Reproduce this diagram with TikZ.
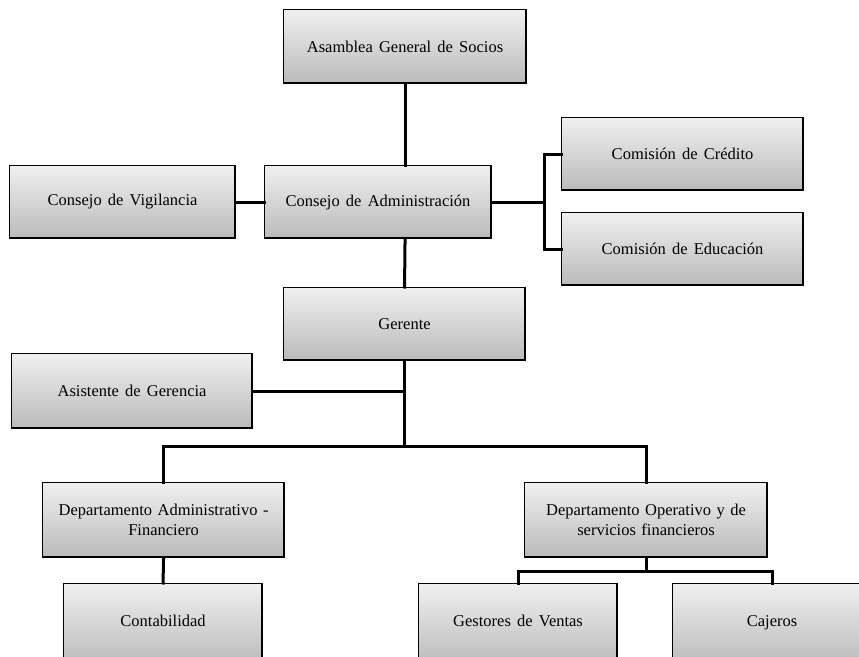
\documentclass[tikz,border=0pt]{standalone}
\usepackage{fontspec}
\setmainfont{Liberation Serif}[WordSpace=1.5]
\begin{document}
\begin{tikzpicture}[x=1pt,y=-1pt,
  orgbox/.style={draw=black, line width=1.1pt, rectangle, anchor=north west,
    inner sep=0pt, align=center, top color=black!6, bottom color=black!27,
    font=\fontsize{16.5}{20}\selectfont,
    path picture={\draw[line width=2.6pt]
      (path picture bounding box.south west) -- (path picture bounding box.south east)
      -- (path picture bounding box.north east);}},
  link/.style={line width=3pt, line cap=rect}]
\useasboundingbox (0,0) rectangle (859,656);
\clip (0,0) rectangle (859,656);

% boxes
\node[orgbox, minimum width=243pt, minimum height=74pt] (asamblea) at (283,9) {Asamblea General de Socios};
\node[orgbox, minimum width=226pt, minimum height=73pt] (vigilancia) at (9,165) {Consejo de Vigilancia};
\node[orgbox, minimum width=227pt, minimum height=73pt] (admin) at (264,165) {Consejo de Administración};
\node[orgbox, minimum width=242pt, minimum height=73pt] (credito) at (561,117) {Comisión de Crédito};
\node[orgbox, minimum width=242pt, minimum height=73pt] (educacion) at (561,212) {Comisión de Educación};
\node[orgbox, minimum width=242pt, minimum height=73pt] (gerente) at (283,287) {Gerente};
\node[orgbox, minimum width=241pt, minimum height=75pt] (asistente) at (11,353) {Asistente de Gerencia};
\node[orgbox, minimum width=242pt, minimum height=75pt, text width=236pt] (depadm) at (42,482) {Departamento Administrativo -\\Financiero};
\node[orgbox, minimum width=243pt, minimum height=75pt, text width=236pt] (depop) at (524,482) {Departamento Operativo y de\\servicios financieros};
\node[orgbox, minimum width=199pt, minimum height=82pt] (contab) at (63,583) {\raisebox{8pt}{Contabilidad}};
\node[orgbox, minimum width=199pt, minimum height=82pt] (gestores) at (418,583) {\raisebox{8pt}{Gestores de Ventas}};
\node[orgbox, minimum width=199pt, minimum height=82pt] (cajeros) at (672,583) {\raisebox{8pt}{Cajeros}};

% connectors
\draw[link] (asamblea.south) -- (asamblea.south |- admin.north);
\draw[link] (vigilancia.east) -- (admin.west);
\draw[link] (asamblea.south |- admin.south) -- (gerente.north);
\draw[link] (admin.east) -- ++(52,0) coordinate (brk);
\draw[link] (brk |- credito.west) -- (brk |- educacion.west);
\draw[link] (brk |- credito.west) -- (credito.west);
\draw[link] (brk |- educacion.west) -- (educacion.west);
\draw[link] (gerente.south) -- (gerente.south |- 0,446) coordinate (hub);
\draw[link] (asistente.east) -- (asistente.east -| hub);
\draw[link] (depadm.north) -- (depadm.north |- hub) -- (depop.north |- hub) -- (depop.north);
\draw[link] (depadm.south) -- (contab.north);
\draw[link] (depop.south) -- ++(0,13) coordinate (opbar);
\draw[link] (gestores.north) -- (gestores.north |- opbar) -- (cajeros.north |- opbar) -- (cajeros.north);
\end{tikzpicture}
\end{document}
